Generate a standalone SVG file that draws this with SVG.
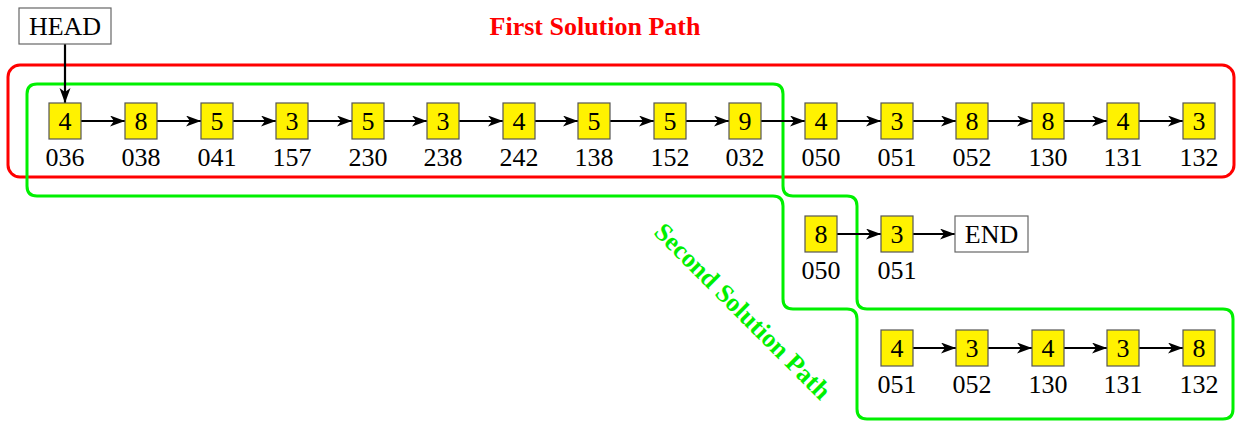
<svg xmlns="http://www.w3.org/2000/svg" width="1236" height="422" viewBox="0 0 1236 422">
  <style>
    .cell { fill: #fff200; stroke: #555; stroke-width: 1.2; }
    .tag { fill: #fff; stroke: #666; stroke-width: 1.2; }
    .t { font-family: "Liberation Serif", "Times New Roman", serif; font-size: 26px; fill: #000; text-anchor: middle; }
    .link { stroke: #000; stroke-width: 2.2; fill: none; marker-end: url(#arrow); }
    .title { font-family: "Liberation Serif", "Times New Roman", serif; font-size: 26px; font-weight: bold; text-anchor: middle; }
  </style>
  <defs>
    <marker id="arrow" markerUnits="userSpaceOnUse" markerWidth="16" markerHeight="12" refX="15" refY="5.5" orient="auto">
      <path d="M0,0 L15,5.5 L0,11 L4,5.5 Z" fill="#000"/>
    </marker>
  </defs>

  <rect width="1236" height="422" fill="#fff"/>

  <!-- solution path outlines -->
  <g id="paths">
    <rect x="8" y="65" width="1226" height="112" rx="12" ry="12" fill="none" stroke="#ff0000" stroke-width="3"/>
    <path d="M27,94 Q27,84 37,84 L773,84 Q783,84 783,94 L783,186 Q783,196 793,196 L847,196 Q857,196 857,206 L857,299 Q857,309 867,309 L1223,309 Q1233,309 1233,319 L1233,409 Q1233,419 1223,419 L867,419 Q857,419 857,409 L857,319 Q857,309 847,309 L793,309 Q783,309 783,299 L783,206 Q783,196 773,196 L37,196 Q27,196 27,186 Z" fill="none" stroke="#00f000" stroke-width="3"/>
    <text class="title" x="595" y="35" fill="#ff0000">First Solution Path</text>
    <text class="title" fill="#00f000" transform="translate(743,311) rotate(45)" dy="9">Second Solution Path</text>
  </g>

  <!-- connectors -->
  <g id="connectors">
    <line class="link" x1="65" y1="44" x2="65" y2="103"/>
    <line class="link" x1="81" y1="121" x2="125" y2="121"/>
    <line class="link" x1="157" y1="121" x2="201" y2="121"/>
    <line class="link" x1="233" y1="121" x2="276" y2="121"/>
    <line class="link" x1="308" y1="121" x2="352" y2="121"/>
    <line class="link" x1="384" y1="121" x2="427" y2="121"/>
    <line class="link" x1="459" y1="121" x2="503" y2="121"/>
    <line class="link" x1="535" y1="121" x2="578" y2="121"/>
    <line class="link" x1="610" y1="121" x2="654" y2="121"/>
    <line class="link" x1="686" y1="121" x2="729" y2="121"/>
    <line class="link" x1="761" y1="121" x2="805" y2="121"/>
    <line class="link" x1="837" y1="121" x2="881" y2="121"/>
    <line class="link" x1="913" y1="121" x2="956" y2="121"/>
    <line class="link" x1="988" y1="121" x2="1032" y2="121"/>
    <line class="link" x1="1064" y1="121" x2="1107" y2="121"/>
    <line class="link" x1="1139" y1="121" x2="1183" y2="121"/>
    <line class="link" x1="837" y1="234" x2="881" y2="234"/>
    <line class="link" x1="913" y1="234" x2="955" y2="234"/>
    <line class="link" x1="913" y1="348" x2="956" y2="348"/>
    <line class="link" x1="988" y1="348" x2="1032" y2="348"/>
    <line class="link" x1="1064" y1="348" x2="1107" y2="348"/>
    <line class="link" x1="1139" y1="348" x2="1183" y2="348"/>
  </g>

  <!-- terminals -->
  <g id="head">
    <rect class="tag" x="19" y="8" width="92" height="36"/>
    <text class="t" x="65" y="35">HEAD</text>
  </g>
  <g id="end">
    <rect class="tag" x="955" y="216" width="73" height="36"/>
    <text class="t" x="991.5" y="243">END</text>
  </g>

  <!-- first row -->
  <g id="n036"><rect class="cell" x="49" y="103" width="32" height="36"/><text class="t" x="65" y="130">4</text><text class="t" x="65" y="166">036</text></g>
  <g id="n038"><rect class="cell" x="125" y="103" width="32" height="36"/><text class="t" x="141" y="130">8</text><text class="t" x="141" y="166">038</text></g>
  <g id="n041"><rect class="cell" x="201" y="103" width="32" height="36"/><text class="t" x="217" y="130">5</text><text class="t" x="217" y="166">041</text></g>
  <g id="n157"><rect class="cell" x="276" y="103" width="32" height="36"/><text class="t" x="292" y="130">3</text><text class="t" x="292" y="166">157</text></g>
  <g id="n230"><rect class="cell" x="352" y="103" width="32" height="36"/><text class="t" x="368" y="130">5</text><text class="t" x="368" y="166">230</text></g>
  <g id="n238"><rect class="cell" x="427" y="103" width="32" height="36"/><text class="t" x="443" y="130">3</text><text class="t" x="443" y="166">238</text></g>
  <g id="n242"><rect class="cell" x="503" y="103" width="32" height="36"/><text class="t" x="519" y="130">4</text><text class="t" x="519" y="166">242</text></g>
  <g id="n138"><rect class="cell" x="578" y="103" width="32" height="36"/><text class="t" x="594" y="130">5</text><text class="t" x="594" y="166">138</text></g>
  <g id="n152"><rect class="cell" x="654" y="103" width="32" height="36"/><text class="t" x="670" y="130">5</text><text class="t" x="670" y="166">152</text></g>
  <g id="n032"><rect class="cell" x="729" y="103" width="32" height="36"/><text class="t" x="745" y="130">9</text><text class="t" x="745" y="166">032</text></g>
  <g id="n050a"><rect class="cell" x="805" y="103" width="32" height="36"/><text class="t" x="821" y="130">4</text><text class="t" x="821" y="166">050</text></g>
  <g id="n051a"><rect class="cell" x="881" y="103" width="32" height="36"/><text class="t" x="897" y="130">3</text><text class="t" x="897" y="166">051</text></g>
  <g id="n052a"><rect class="cell" x="956" y="103" width="32" height="36"/><text class="t" x="972" y="130">8</text><text class="t" x="972" y="166">052</text></g>
  <g id="n130a"><rect class="cell" x="1032" y="103" width="32" height="36"/><text class="t" x="1048" y="130">8</text><text class="t" x="1048" y="166">130</text></g>
  <g id="n131a"><rect class="cell" x="1107" y="103" width="32" height="36"/><text class="t" x="1123" y="130">4</text><text class="t" x="1123" y="166">131</text></g>
  <g id="n132a"><rect class="cell" x="1183" y="103" width="32" height="36"/><text class="t" x="1199" y="130">3</text><text class="t" x="1199" y="166">132</text></g>

  <!-- second row -->
  <g id="n050b"><rect class="cell" x="805" y="216" width="32" height="36"/><text class="t" x="821" y="243">8</text><text class="t" x="821" y="279">050</text></g>
  <g id="n051b"><rect class="cell" x="881" y="216" width="32" height="36"/><text class="t" x="897" y="243">3</text><text class="t" x="897" y="279">051</text></g>

  <!-- third row -->
  <g id="n051c"><rect class="cell" x="881" y="330" width="32" height="36"/><text class="t" x="897" y="357">4</text><text class="t" x="897" y="393">051</text></g>
  <g id="n052c"><rect class="cell" x="956" y="330" width="32" height="36"/><text class="t" x="972" y="357">3</text><text class="t" x="972" y="393">052</text></g>
  <g id="n130c"><rect class="cell" x="1032" y="330" width="32" height="36"/><text class="t" x="1048" y="357">4</text><text class="t" x="1048" y="393">130</text></g>
  <g id="n131c"><rect class="cell" x="1107" y="330" width="32" height="36"/><text class="t" x="1123" y="357">3</text><text class="t" x="1123" y="393">131</text></g>
  <g id="n132c"><rect class="cell" x="1183" y="330" width="32" height="36"/><text class="t" x="1199" y="357">8</text><text class="t" x="1199" y="393">132</text></g>
</svg>
